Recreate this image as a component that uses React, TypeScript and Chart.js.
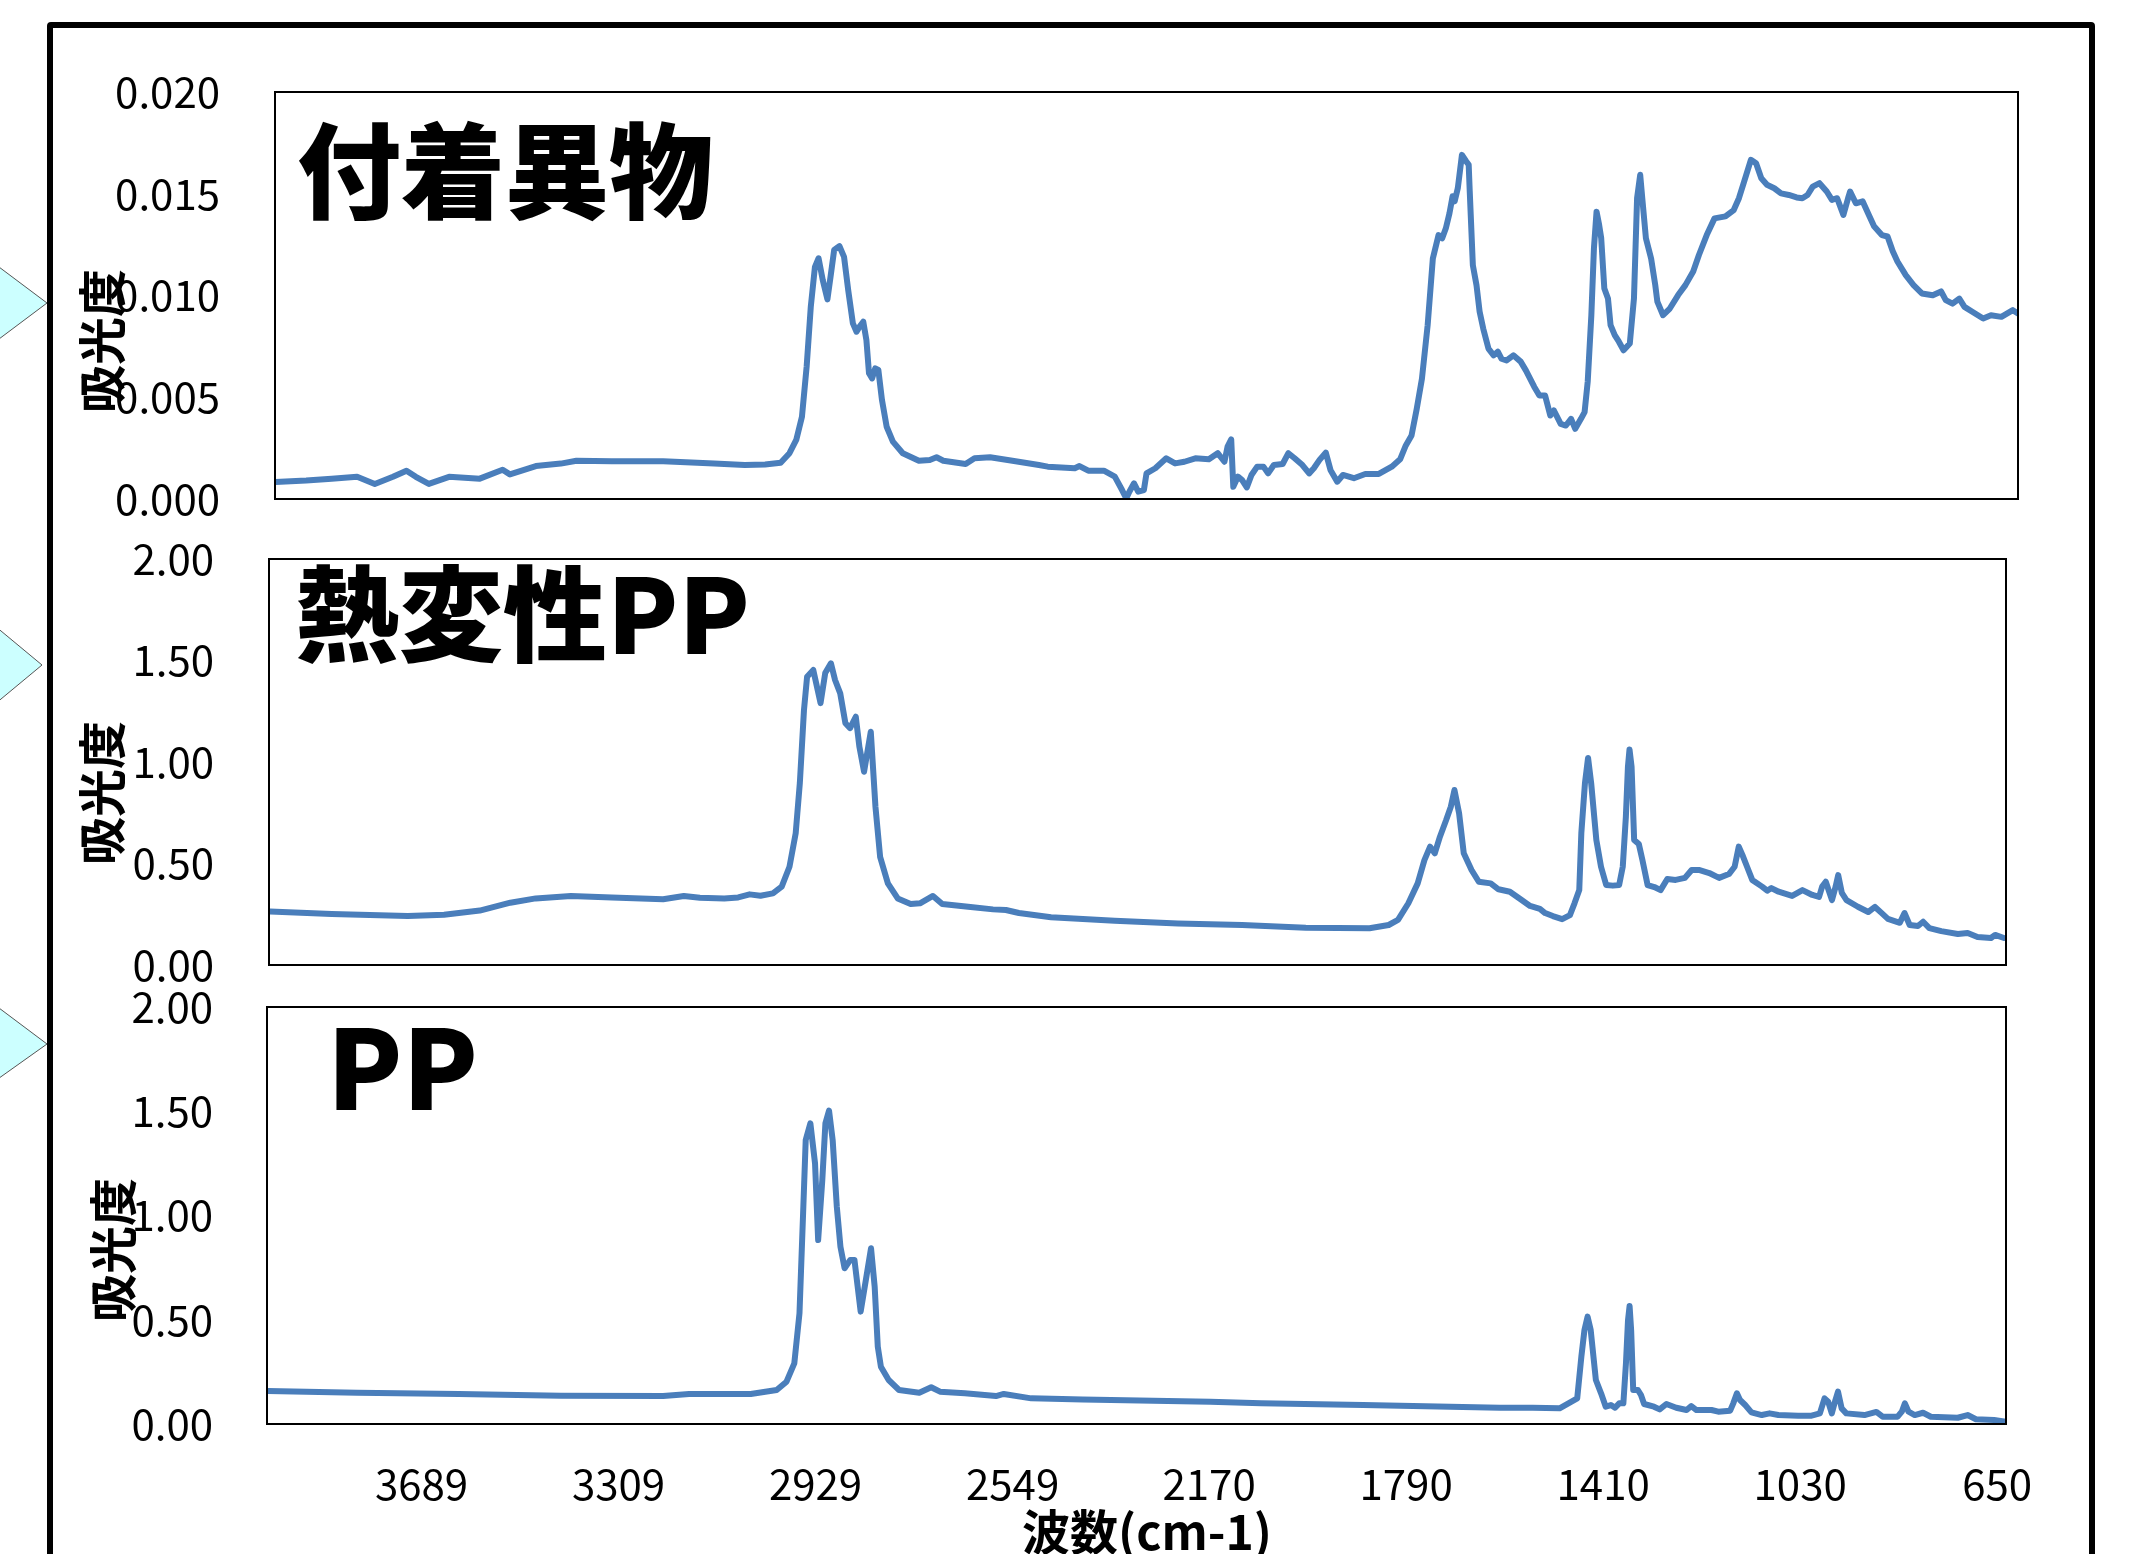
import React, { useEffect, useRef } from "react";
import { Chart, registerables } from "chart.js";

Chart.register(...registerables);

const PAGE_W = 2132;
const PAGE_H = 1554;
const FONT = "'Noto Sans CJK JP', 'Noto Sans', sans-serif";

// x axis (wavenumber, reversed)
const xMin = 633;
const xMax = 3987;
const xTickValues = [3689, 3309, 2929, 2549, 2170, 1790, 1410, 1030, 650];

// y tick labels
const topYTicks = [0, 0.005, 0.01, 0.015, 0.02];
const ppYTicks = [0, 0.5, 1.0, 1.5, 2.0];

// 付着異物 spectrum
const adhesionWn = [
  3986, 3927, 3878, 3829, 3795, 3760, 3734, 3716, 3691, 3652, 3593, 3549, 3535, 3485, 3437, 3407, 3339, 3240, 3142,
  3083, 3044, 3014, 2997, 2984, 2973, 2964, 2956, 2948, 2941, 2933, 2924, 2918, 2911, 2901, 2892, 2884, 2875, 2868,
  2862, 2855, 2849, 2844, 2838, 2832, 2826, 2819, 2810, 2798, 2779, 2748, 2727, 2714, 2701, 2658, 2641, 2611, 2568,
  2517, 2500, 2448, 2439, 2422, 2392, 2371, 2357, 2349, 2343, 2334, 2326, 2315, 2310, 2293, 2272, 2255, 2237, 2216,
  2190, 2173, 2160, 2154, 2147, 2143, 2134, 2126, 2117, 2108, 2097, 2085, 2076, 2065, 2048, 2037, 2025, 2010, 1997,
  1988, 1977, 1965, 1956, 1943, 1932, 1911, 1889, 1863, 1838, 1822, 1811, 1800, 1790, 1780, 1769, 1759, 1748, 1741,
  1734, 1727, 1721, 1717, 1711, 1703, 1695, 1690, 1688, 1682, 1675, 1669, 1662, 1652, 1642, 1634, 1627, 1617, 1604,
  1590, 1580, 1564, 1554, 1543, 1533, 1526, 1513, 1503, 1493, 1485, 1474, 1467, 1461, 1454, 1449, 1444, 1439, 1435,
  1429, 1422, 1417, 1409, 1401, 1392, 1380, 1372, 1366, 1360, 1356, 1349, 1339, 1331, 1327, 1316, 1303, 1287, 1273,
  1258, 1247, 1232, 1217, 1196, 1180, 1170, 1160, 1147, 1137, 1127, 1116, 1102, 1089, 1074, 1059, 1048, 1038, 1028,
  1015, 1001, 991, 981, 969, 960, 956, 945, 932, 920, 910, 895, 884, 874, 865, 849, 834, 818, 797, 781, 772, 759, 746,
  736, 721, 700, 685, 665, 643, 633,
];
const adhesionAbs = [
  0.00084, 0.00091, 0.001, 0.00109, 0.00074, 0.00109, 0.00139, 0.00109, 0.00074, 0.00109, 0.001, 0.00144, 0.00121,
  0.00162, 0.00174, 0.00188, 0.00185, 0.00185, 0.00174,
  0.00167, 0.0017, 0.00178, 0.00225, 0.0029, 0.00404, 0.0065, 0.00945, 0.01141, 0.01183, 0.01076, 0.00981, 0.01092,
  0.01224, 0.01243, 0.0119, 0.01027, 0.00863, 0.00822,
  0.00847, 0.00871, 0.00781, 0.00618, 0.00593, 0.00642, 0.00634, 0.00486, 0.00355, 0.00282, 0.00225, 0.00188,
  0.00192, 0.00205, 0.00188, 0.00172, 0.002, 0.00205, 0.00188,
  0.00167, 0.00159, 0.00151, 0.00162, 0.00139, 0.00139, 0.0011, 0.00044, 0.00003, 0.00036, 0.00077, 0.00036,
  0.00044, 0.00126, 0.00151, 0.002, 0.00175, 0.00183, 0.002,
  0.00195, 0.00225, 0.00183, 0.00257, 0.00293, 0.0006, 0.0011, 0.00093, 0.00057, 0.00118, 0.00159, 0.00159,
  0.00126, 0.00167, 0.00172, 0.00225, 0.002, 0.00167, 0.00126,
  0.00151, 0.00192, 0.00228, 0.00143, 0.00085, 0.00118, 0.00102, 0.00123, 0.00123, 0.00159, 0.00195, 0.00263,
  0.00312, 0.00443, 0.00591, 0.00854, 0.01182, 0.01297, 0.01281,
  0.0133, 0.01404, 0.01488, 0.01463, 0.01527, 0.01691, 0.0166, 0.01642, 0.01512, 0.01149, 0.01051, 0.00921,
  0.00837, 0.00739, 0.00706, 0.00724, 0.0069, 0.00681, 0.00706,
  0.00675, 0.00632, 0.00552, 0.00509, 0.00509, 0.0041, 0.00435, 0.00369, 0.00361, 0.00394, 0.00345, 0.00394,
  0.00427, 0.00576, 0.00903, 0.01232, 0.01412, 0.01347, 0.01281,
  0.01034, 0.00985, 0.00854, 0.00805, 0.00773, 0.00731, 0.00764, 0.00985, 0.01478, 0.01593, 0.01478, 0.01281,
  0.01182, 0.01051, 0.0097, 0.00903, 0.00936, 0.01002, 0.01051,
  0.01118, 0.01199, 0.01297, 0.01379, 0.01389, 0.0142, 0.01478, 0.0156, 0.01667, 0.0165, 0.01576, 0.01544, 0.01527,
  0.01502, 0.01494, 0.01482, 0.01478, 0.01494, 0.01535,
  0.01552, 0.01511, 0.0147, 0.01478, 0.01396, 0.01478, 0.01511, 0.01453, 0.01463, 0.01396, 0.0134, 0.01297, 0.0129,
  0.01217, 0.01167, 0.011, 0.01051, 0.0101, 0.01001, 0.0102, 0.00977, 0.0096, 0.00985,
  0.00944, 0.0092, 0.00887, 0.00903, 0.00895, 0.00928, 0.00911,
];

// 熱変性PP spectrum
const heatPpWn = [
  3985, 3866, 3719, 3649, 3580, 3521, 3472, 3404, 3325, 3226, 3186, 3155, 3108, 3081, 3059, 3038, 3014, 2997, 2982,
  2970, 2962, 2954, 2948, 2936, 2929, 2922, 2913, 2902, 2894, 2884, 2874, 2865, 2854, 2847, 2838, 2825, 2816, 2807,
  2792, 2773, 2748, 2730, 2705, 2687, 2637, 2589, 2564, 2539, 2477, 2354, 2232, 2108, 1985, 1862, 1825, 1807, 1787,
  1769, 1756, 1745, 1736, 1726, 1714, 1705, 1698, 1689, 1680, 1665, 1651, 1628, 1613, 1591, 1571, 1552, 1533, 1523,
  1508, 1490, 1475, 1466, 1457, 1453, 1446, 1440, 1434, 1424, 1415, 1405, 1392, 1380, 1373, 1367, 1363, 1360, 1356,
  1351, 1342, 1335, 1325, 1312, 1300, 1287, 1271, 1253, 1240, 1226, 1206, 1187, 1168, 1157, 1149, 1142, 1133, 1123,
  1104, 1094, 1086, 1072, 1046, 1026, 1007, 994, 988, 981, 969, 962, 957, 950, 941, 919, 899, 886, 874, 861, 838, 829,
  819, 803, 793, 781, 758, 726, 707, 688, 662, 654, 637,
];
const heatPpAbs = [
  0.263, 0.251, 0.241, 0.248, 0.268, 0.307, 0.328, 0.34, 0.333, 0.324, 0.34, 0.331, 0.328, 0.333, 0.348, 0.341, 0.353,
  0.386, 0.484,
  0.649, 0.896, 1.256, 1.42, 1.453, 1.371, 1.29, 1.438, 1.486, 1.404, 1.338, 1.191, 1.167, 1.223, 1.075, 0.952, 1.149,
  0.78, 0.533,
  0.402, 0.328, 0.3, 0.304, 0.34, 0.3, 0.287, 0.274, 0.271, 0.256, 0.235, 0.218, 0.205, 0.197, 0.184, 0.181, 0.197,
  0.222, 0.304,
  0.402, 0.517, 0.583, 0.55, 0.632, 0.714, 0.78, 0.862, 0.747, 0.55, 0.468, 0.41, 0.402, 0.373, 0.361, 0.325, 0.291,
  0.276, 0.256,
  0.241, 0.226, 0.246, 0.305, 0.369, 0.65, 0.896, 1.02, 0.896, 0.616, 0.484, 0.394, 0.391, 0.394, 0.484, 0.73, 0.977,
  1.062, 0.977,
  0.616, 0.596, 0.517, 0.394, 0.384, 0.369, 0.424, 0.419, 0.429, 0.468, 0.468, 0.453, 0.429, 0.448, 0.484, 0.583,
  0.542, 0.484, 0.419,
  0.386, 0.366, 0.379, 0.361, 0.34, 0.369, 0.345, 0.335, 0.386, 0.41, 0.32, 0.386, 0.443, 0.355, 0.32, 0.287, 0.261,
  0.286, 0.258, 0.227, 0.208, 0.256,
  0.197, 0.192, 0.213, 0.182, 0.167, 0.153, 0.158, 0.138, 0.133, 0.148, 0.133,
];

// PP spectrum
const ppWn = [
  3985, 3813, 3617, 3420, 3223, 3173, 3152, 3054, 3004, 2985, 2970, 2960, 2953, 2948, 2939, 2930, 2924, 2916, 2910,
  2903, 2896, 2888, 2881, 2873, 2862, 2854, 2842, 2832, 2822, 2815, 2809, 2803, 2788, 2768, 2729, 2706, 2689, 2641,
  2581, 2566, 2513, 2414, 2168, 2070, 1873, 1609, 1546, 1494, 1471, 1460, 1452, 1446, 1440, 1434, 1424, 1414, 1405,
  1395, 1387, 1379, 1371, 1366, 1362, 1359, 1356, 1352, 1343, 1337, 1331, 1312, 1301, 1288, 1269, 1249, 1240, 1230,
  1201, 1188, 1165, 1159, 1152, 1146, 1136, 1124, 1104, 1089, 1072, 1034, 1008, 992, 983, 976, 969, 962, 957, 950,
  941, 906, 883, 871, 842, 834, 828, 821, 809, 793, 778, 726, 707, 691, 656, 633,
];
const ppAbs = [
  0.158, 0.15, 0.144, 0.135, 0.134, 0.144, 0.144, 0.144, 0.163, 0.203, 0.291, 0.531, 1.012, 1.362, 1.442, 1.25, 0.882,
  1.17, 1.442,
  1.503, 1.362, 1.042, 0.85, 0.747, 0.787, 0.787, 0.539, 0.691, 0.843, 0.659, 0.371, 0.275, 0.211, 0.163, 0.15, 0.176,
  0.155, 0.147,
  0.134, 0.144, 0.123, 0.118, 0.107, 0.099, 0.091, 0.078, 0.078, 0.075, 0.107, 0.123, 0.323, 0.451, 0.515, 0.451,
  0.211, 0.147, 0.083,
  0.091, 0.078, 0.099, 0.099, 0.291, 0.499, 0.566, 0.451, 0.163, 0.163, 0.139, 0.096, 0.083, 0.07, 0.096, 0.078,
  0.067, 0.086, 0.067,
  0.067, 0.059, 0.064, 0.099, 0.147, 0.115, 0.091, 0.056, 0.043, 0.051, 0.043, 0.04, 0.04, 0.051, 0.123, 0.107,
  0.051, 0.115, 0.155, 0.075,
  0.051, 0.043, 0.058, 0.035, 0.035, 0.059, 0.099, 0.059, 0.043, 0.054, 0.035, 0.03, 0.043, 0.023, 0.019, 0.011,
];

const boxPlugin = {
  id: "plotBox",
  afterDraw(chart: any) {
    const { ctx, chartArea } = chart;
    ctx.save();
    ctx.strokeStyle = "#000";
    ctx.lineWidth = 2;
    ctx.strokeRect(chartArea.left, chartArea.top, chartArea.right - chartArea.left, chartArea.bottom - chartArea.top);
    ctx.restore();
  },
};

type PanelProps = {
  wn: number[];
  abs: number[];
  yTicks: number[];
  decimals: number;
  boxLeft: number;
  boxTop: number;
  boxRight: number;
  boxBottom: number;
  canvasTop: number;
  canvasBottom: number;
  showX: boolean;
  yPad: number;
};

function Panel(p: PanelProps) {
  const ref = useRef<HTMLCanvasElement>(null);
  const h = p.canvasBottom - p.canvasTop;
  const xAxisH = 100;
  useEffect(() => {
    const canvas = ref.current!;
    const pad = {
      left: 0,
      top: p.boxTop - p.canvasTop,
      right: PAGE_W - p.boxRight,
      bottom: p.showX ? p.canvasBottom - p.boxBottom - xAxisH : p.canvasBottom - p.boxBottom,
    };
    const chart = new Chart(canvas, {
      type: "line",
      data: {
        datasets: [
          {
            data: p.wn.map((x, i) => ({ x, y: p.abs[i] })),
            borderColor: "#4A7EBB",
            borderWidth: 6,
            borderJoinStyle: "round",
            borderCapStyle: "round",
            pointRadius: 0,
            tension: 0,
            fill: false,
          },
        ],
      },
      options: {
        animation: false,
        responsive: false,
        maintainAspectRatio: false,
        events: [],
        layout: { padding: { ...pad } },
        plugins: { legend: { display: false }, tooltip: { enabled: false }, title: { display: false } },
        scales: {
          x: {
            type: "linear",
            reverse: true,
            min: xMin,
            max: xMax,
            display: p.showX,
            grid: { display: false, drawTicks: false },
            border: { display: false },
            afterBuildTicks: (s: any) => {
              s.ticks = xTickValues.map((v) => ({ value: v }));
            },
            afterFit: (s: any) => {
              s.height = p.showX ? xAxisH : 0;
              s.paddingLeft = 0;
              s.paddingRight = 0;
            },
            ticks: {
              autoSkip: false,
              maxRotation: 0,
              minRotation: 0,
              padding: 35,
              color: "#000",
              font: { size: 42, family: FONT },
              callback: (v: any) => String(v),
            },
          },
          y: {
            type: "linear",
            min: 0,
            max: p.yTicks[p.yTicks.length - 1],
            grid: { display: false, drawTicks: false },
            border: { display: false },
            afterBuildTicks: (s: any) => {
              s.ticks = p.yTicks.map((v) => ({ value: v }));
            },
            afterFit: (s: any) => {
              s.width = p.boxLeft;
              s.paddingTop = 0;
              s.paddingBottom = 0;
            },
            ticks: {
              padding: p.yPad,
              color: "#000",
              font: { size: 42, family: FONT },
              callback: (v: any) => Number(v).toFixed(p.decimals),
            },
          },
        },
      },
      plugins: [boxPlugin],
    } as any);
    // make the plot area land exactly on the target box
    for (let i = 0; i < 6; i++) {
      const ca = chart.chartArea;
      const eT = p.boxTop - p.canvasTop - ca.top;
      const eB = p.boxBottom - p.canvasTop - ca.bottom;
      const eL = p.boxLeft - ca.left;
      const eR = p.boxRight - ca.right;
      if (Math.abs(eT) < 0.5 && Math.abs(eB) < 0.5 && Math.abs(eL) < 0.5 && Math.abs(eR) < 0.5) break;
      pad.top += eT;
      pad.bottom -= eB;
      pad.left += eL;
      pad.right -= eR;
      (chart.options as any).layout.padding = { ...pad };
      chart.update();
    }
    return () => chart.destroy();
  }, []);
  return (
    <canvas
      ref={ref}
      width={PAGE_W}
      height={h}
      style={{ position: "absolute", left: 0, top: p.canvasTop, width: PAGE_W, height: h }}
    />
  );
}

const titleStyle: React.CSSProperties = {
  position: "absolute",
  fontFamily: FONT,
  fontWeight: 900,
  lineHeight: 1,
  whiteSpace: "nowrap",
  color: "#000",
};

function YTitle({ cx, cy }: { cx: number; cy: number }) {
  return (
    <div
      style={{
        ...titleStyle,
        fontWeight: 700,
        left: cx - 100,
        top: cy - 24,
        width: 200,
        height: 48,
        fontSize: 48,
        textAlign: "center",
        transform: "rotate(-90deg)",
      }}
    >
      吸光度
    </div>
  );
}

export default function App() {
  return (
    <div
      style={{
        position: "fixed",
        left: 0,
        top: 0,
        width: PAGE_W,
        height: PAGE_H,
        overflow: "hidden",
        background: "#fff",
      }}
    >
      <svg width={80} height={PAGE_H} style={{ position: "absolute", left: 0, top: 0 }}>
        <polygon points="-5,264 47,303 -5,342" fill="#CCFFFF" stroke="#555" strokeWidth={1} />
        <polygon points="-5,626 42,665 -5,704" fill="#CCFFFF" stroke="#555" strokeWidth={1} />
        <polygon points="-5,1005 47,1044 -5,1081" fill="#CCFFFF" stroke="#555" strokeWidth={1} />
      </svg>
      <div
        style={{
          position: "absolute",
          left: 47,
          top: 22,
          width: 2048,
          height: 1700,
          border: "6px solid #000",
          borderRadius: 4,
          boxSizing: "border-box",
        }}
      />
      <Panel
        wn={adhesionWn}
        abs={adhesionAbs}
        yTicks={topYTicks}
        decimals={3}
        boxLeft={275}
        boxTop={92}
        boxRight={2018}
        boxBottom={499}
        canvasTop={30}
        canvasBottom={545}
        showX={false}
        yPad={55}
      />
      <Panel
        wn={heatPpWn}
        abs={heatPpAbs}
        yTicks={ppYTicks}
        decimals={2}
        boxLeft={269}
        boxTop={559}
        boxRight={2006}
        boxBottom={965}
        canvasTop={505}
        canvasBottom={1000}
        showX={false}
        yPad={55}
      />
      <Panel
        wn={ppWn}
        abs={ppAbs}
        yTicks={ppYTicks}
        decimals={2}
        boxLeft={267}
        boxTop={1007}
        boxRight={2006}
        boxBottom={1424}
        canvasTop={955}
        canvasBottom={1554}
        showX={true}
        yPad={54}
      />
      <div style={{ ...titleStyle, left: 297, top: 114, fontSize: 104 }}>付着異物</div>
      <div style={{ ...titleStyle, left: 295, top: 557, fontSize: 104 }}>熱変性PP</div>
      <div style={{ ...titleStyle, left: 327, top: 1007, fontSize: 110 }}>PP</div>
      <YTitle cx={99} cy={341} />
      <YTitle cx={99} cy={793} />
      <YTitle cx={110} cy={1250} />
      <div
        style={{
          ...titleStyle,
          fontWeight: 700,
          left: 1147 - 200,
          top: 1505,
          width: 400,
          textAlign: "center",
          fontSize: 48,
        }}
      >
        波数(cm-1)
      </div>
    </div>
  );
}
